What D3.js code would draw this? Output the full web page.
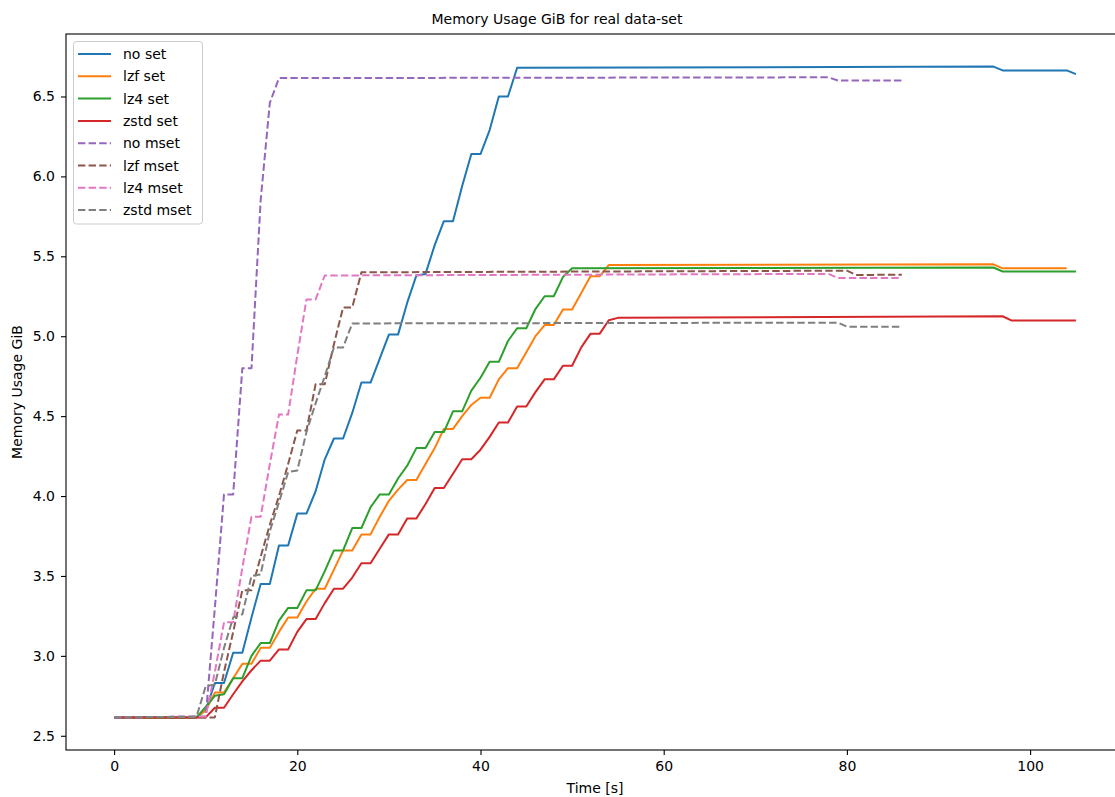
<!DOCTYPE html>
<html>
<head>
<meta charset="utf-8">
<script src="https://cdn.jsdelivr.net/npm/d3@7"></script>
<style>
  body { margin: 0; background: #fff; }
  svg { font-family: "DejaVu Sans", sans-serif; }
</style>
</head>
<body>
<svg width="1115" height="797"></svg>
<script>
const svg = d3.select('svg');

// series names + colours (matplotlib tab10)
const names = ['no set', 'lzf set', 'lz4 set', 'zstd set', 'no mset', 'lzf mset', 'lz4 mset', 'zstd mset'];
const colors = ['#1f77b4', '#ff7f0e', '#2ca02c', '#d62728', '#9467bd', '#8c564b', '#e377c2', '#7f7f7f'];
const dashed = [false, false, false, false, true, true, true, true];

// [time s, GiB]
const noSet = [[0,2.615],[9,2.615],[10,2.66],[11,2.83],[12,2.83],[13,3.02],[14,3.02],[15,3.24],[16,3.45],[17,3.45],
  [18,3.69],[19,3.69],[20,3.89],[21,3.89],[22,4.03],[23,4.23],[24,4.36],[25,4.36],[26,4.52],[27,4.71],[28,4.71],
  [29,4.86],[30,5.01],[31,5.01],[32,5.21],[33,5.38],[34,5.39],[35,5.57],[36,5.72],[37,5.72],[38,5.94],[39,6.14],
  [40,6.14],[41,6.29],[42,6.50],[43,6.50],[44,6.68],[96,6.687],[97,6.663],[104,6.663],[105,6.64]];
const lzfSet = [[0,2.615],[9,2.615],[10,2.66],[11,2.77],[12,2.77],[13,2.86],[14,2.95],[15,2.95],[16,3.05],[17,3.05],
  [18,3.15],[19,3.24],[20,3.24],[21,3.34],[22,3.42],[23,3.42],[24,3.54],[25,3.66],[26,3.66],[27,3.76],[28,3.76],
  [29,3.87],[30,3.97],[31,4.04],[32,4.10],[33,4.10],[34,4.20],[35,4.30],[36,4.42],[37,4.42],[38,4.50],[39,4.57],
  [40,4.615],[41,4.615],[42,4.73],[43,4.80],[44,4.80],[45,4.90],[46,5.00],[47,5.07],[48,5.07],[49,5.167],[50,5.167],
  [51,5.27],[52,5.375],[53,5.375],[54,5.445],[96,5.45],[97,5.425],[104,5.425]];
const lz4Set = [[0,2.615],[9,2.615],[10,2.68],[11,2.75],[12,2.76],[13,2.86],[14,2.86],[15,3.0],[16,3.08],[17,3.08],
  [18,3.22],[19,3.30],[20,3.30],[21,3.41],[22,3.41],[23,3.53],[24,3.66],[25,3.66],[26,3.80],[27,3.80],[28,3.93],
  [29,4.01],[30,4.01],[31,4.11],[32,4.19],[33,4.30],[34,4.30],[35,4.40],[36,4.40],[37,4.53],[38,4.53],[39,4.66],
  [40,4.74],[41,4.84],[42,4.84],[43,4.97],[44,5.05],[45,5.05],[46,5.17],[47,5.25],[48,5.25],[49,5.37],[50,5.425],
  [96,5.43],[97,5.405],[105,5.405]];
const zstdSet = [[0,2.615],[10,2.615],[11,2.675],[12,2.675],[13,2.76],[14,2.84],[15,2.91],[16,2.97],[17,2.97],
  [18,3.04],[19,3.04],[20,3.15],[21,3.23],[22,3.23],[23,3.33],[24,3.42],[25,3.42],[26,3.49],[27,3.58],[28,3.58],
  [29,3.67],[30,3.76],[31,3.76],[32,3.86],[33,3.86],[34,3.95],[35,4.05],[36,4.05],[37,4.14],[38,4.23],[39,4.23],
  [40,4.29],[41,4.37],[42,4.46],[43,4.46],[44,4.56],[45,4.56],[46,4.65],[47,4.73],[48,4.73],[49,4.815],[50,4.815],
  [51,4.93],[52,5.015],[53,5.015],[54,5.10],[55,5.115],[97,5.125],[98,5.098],[105,5.098]];
const noMset = [[0,2.615],[10,2.62],[11,3.3],[12,4.01],[13,4.01],[14,4.8],[15,4.8],[16,5.85],[17,6.46],[18,6.615],
  [78,6.62],[79,6.60],[86,6.60]];
const lzfMset = [[0,2.615],[11,2.615],[12,2.90],[13,3.15],[14,3.41],[15,3.41],[16,3.62],[17,3.82],[18,4.0],[19,4.2],
  [20,4.41],[21,4.41],[22,4.70],[23,4.70],[24,4.95],[25,5.18],[26,5.18],[27,5.40],[80,5.41],[81,5.383],[86,5.385]];
const lz4Mset = [[0,2.615],[10,2.62],[11,2.9],[12,3.21],[13,3.21],[14,3.55],[15,3.87],[16,3.87],[17,4.2],[18,4.51],
  [19,4.51],[20,4.88],[21,5.23],[22,5.23],[23,5.38],[78,5.39],[79,5.365],[86,5.365]];
const zstdMset = [[0,2.615],[9,2.62],[10,2.81],[11,2.82],[12,3.05],[13,3.24],[14,3.26],[15,3.50],[16,3.51],[17,3.78],
  [18,3.96],[19,4.15],[20,4.16],[21,4.40],[22,4.58],[23,4.75],[24,4.93],[25,4.93],[26,5.08],[79,5.085],[80,5.06],[86,5.06]];

const allSeries = [noSet, lzfSet, lz4Set, zstdSet, noMset, lzfMset, lz4Mset, zstdMset];
const xTicks = [0, 20, 40, 60, 80, 100];
const yTicks = [2.5, 3.0, 3.5, 4.0, 4.5, 5.0, 5.5, 6.0, 6.5];

// axes box (right edge falls just outside the picture, as in the original)
const axLeft = 66, axRight = 1124, axTop = 34, axBottom = 750;

const x = d3.scaleLinear().domain([-5.25, 110.25]).range([axLeft, axRight]);
const y = d3.scaleLinear().domain([2.411, 6.891]).range([axBottom, axTop]);

svg.append('defs').append('clipPath').attr('id', 'clip')
  .append('rect').attr('x', axLeft).attr('y', axTop).attr('width', axRight - axLeft).attr('height', axBottom - axTop);

const line = d3.line().x(d => x(d[0])).y(d => y(d[1]));

svg.append('g').attr('clip-path', 'url(#clip)')
  .selectAll('path')
  .data(allSeries)
  .enter()
  .append('path')
    .attr('d', line)
    .attr('fill', 'none')
    .attr('stroke', (d, i) => colors[i])
    .attr('stroke-width', 2)
    .attr('stroke-linejoin', 'round')
    .attr('stroke-dasharray', (d, i) => dashed[i] ? '7.4,3.2' : null);

// axes
const xAxis = d3.axisBottom(x).tickValues(xTicks).tickFormat(d3.format('d')).tickSizeOuter(0).tickSize(5).tickPadding(6);
const yAxis = d3.axisLeft(y).tickValues(yTicks).tickFormat(d3.format('.1f')).tickSizeOuter(0).tickSize(5).tickPadding(6);

svg.append('g').attr('transform', `translate(0,${axBottom})`).call(xAxis)
  .call(g => g.select('.domain').remove());
svg.append('g').attr('transform', `translate(${axLeft},0)`).call(yAxis)
  .call(g => g.select('.domain').remove());

svg.selectAll('.tick text').attr('font-size', 14).attr('font-family', 'DejaVu Sans').attr('fill', '#000');
svg.selectAll('.tick line').attr('stroke', '#000').attr('stroke-width', 1.1);

svg.append('rect')
  .attr('x', axLeft).attr('y', axTop).attr('width', axRight - axLeft).attr('height', axBottom - axTop)
  .attr('fill', 'none').attr('stroke', '#000').attr('stroke-width', 1.1);

// labels
svg.append('text').attr('x', 557).attr('y', 24).attr('text-anchor', 'middle')
  .attr('font-size', 14).text('Memory Usage GiB for real data-set');
svg.append('text').attr('x', (axLeft + axRight) / 2).attr('y', 793).attr('text-anchor', 'middle')
  .attr('font-size', 14).text('Time [s]');
svg.append('text').attr('transform', `translate(22,${(axTop + axBottom) / 2}) rotate(-90)`)
  .attr('text-anchor', 'middle').attr('font-size', 14).text('Memory Usage GiB');

// legend
const legend = svg.append('g');
legend.append('rect')
  .attr('x', 73.5).attr('y', 41.5).attr('width', 129).attr('height', 182.5).attr('rx', 3)
  .attr('fill', 'rgba(255,255,255,0.8)').attr('stroke', '#cccccc').attr('stroke-width', 1);
const rowY = i => 54 + i * 22.3;
names.forEach((name, i) => {
  legend.append('line')
    .attr('x1', 78).attr('x2', 111).attr('y1', rowY(i)).attr('y2', rowY(i))
    .attr('stroke', colors[i]).attr('stroke-width', 2)
    .attr('stroke-dasharray', dashed[i] ? '7.4,3.2' : null);
  legend.append('text')
    .attr('x', 123).attr('y', rowY(i) + 5).attr('font-size', 14).text(name);
});
</script>
</body>
</html>
